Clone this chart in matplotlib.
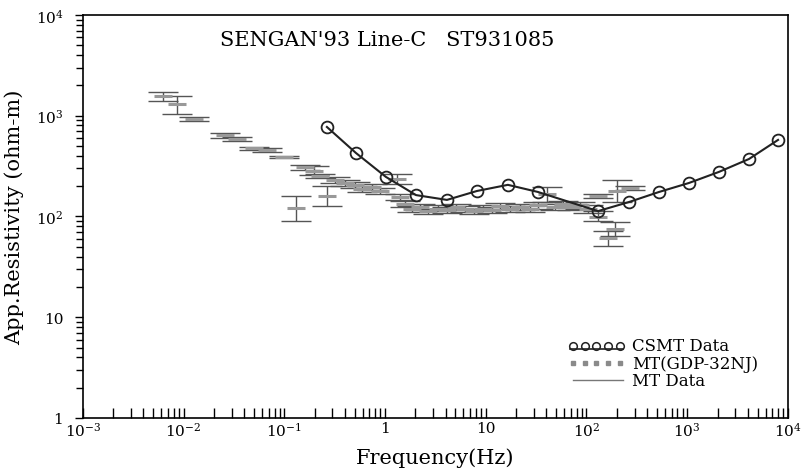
import matplotlib.pyplot as plt
import numpy as np

plt.rcParams['font.family'] = ['DejaVu Serif']
plt.rcParams['mathtext.fontset'] = 'dejavuserif'

# CSMT apparent resistivity
csmt_freq = [0.265, 0.514, 1.02, 2.03, 4.12, 8.18, 16.6, 33.0,
             130, 264, 525, 1042, 2070, 4110, 7980]
csmt_rho = [773, 427, 247, 163, 146, 179, 206, 175,
            113, 139, 175, 215, 277, 372, 575]

# MT (GDP-32NJ) apparent resistivity with error range
mt_freq = [0.00622, 0.00857, 0.01265, 0.0257, 0.0338, 0.0499, 0.0671, 0.0991,
           0.160, 0.197, 0.130, 0.265, 0.226, 0.318, 0.400, 0.502,
           0.590, 0.741, 0.889, 1.31, 1.41, 1.58, 1.85, 2.22,
           2.67, 3.35, 4.12, 5.06, 6.21, 7.64, 9.38, 11.5,
           13.8, 17.4, 21.9, 27.5, 33.0, 40.5, 48.6, 58.5,
           71.8, 86.1, 103, 130, 201, 270, 192, 163, 130]
mt_rho = [1570, 1309, 929, 644, 588, 479, 457, 390,
          310, 283, 121, 160, 252, 230, 215, 205,
          187, 196, 179, 236, 156, 133, 119, 124,
          113, 119, 116, 124, 119, 113, 119, 116,
          127, 119, 124, 119, 130, 167, 124, 133,
          124, 130, 119, 98.9, 179, 192, 75.2, 61.2, 160]
mt_hi = [1722, 1570, 972, 674, 615, 490, 479, 399,
         325, 317, 160, 201, 264, 247, 230, 220,
         201, 210, 192, 264, 167, 143, 127, 133,
         119, 130, 124, 133, 127, 119, 130, 124,
         136, 127, 133, 127, 139, 196, 133, 143,
         133, 139, 130, 113, 230, 201, 88.2, 71.8, 166]
mt_lo = [1400, 1041, 887, 601, 561, 457, 437, 381,
         290, 258, 90.2, 127, 241, 215, 201, 192,
         175, 183, 167, 210, 146, 124, 111, 116,
         106, 113, 108, 116, 111, 106, 113, 108,
         119, 111, 116, 111, 119, 139, 116, 124,
         116, 119, 108, 90.2, 139, 183, 64.0, 51.0, 154]

x_ticks = [1e-3, 1e-2, 1e-1, 1, 10, 1e2, 1e3, 1e4]
x_labels = [r'$10^{-3}$', r'$10^{-2}$', r'$10^{-1}$', '1', '10',
            r'$10^{2}$', r'$10^{3}$', r'$10^{4}$']
y_ticks = [1, 10, 1e2, 1e3, 1e4]
y_labels = ['1', '10', r'$10^{2}$', r'$10^{3}$', r'$10^{4}$']

fig = plt.figure(figsize=(8.04, 4.77), dpi=100)
ax = fig.add_axes([0.103, 0.1216, 0.877, 0.845])
ax.set_xscale('log')
ax.set_yscale('log')
ax.set_xlim(1e-3, 1e4)
ax.set_ylim(1, 1e4)

# MT data: gray bars with dark error bars
mt_rho_a = np.array(mt_rho)
yerr = [mt_rho_a - np.array(mt_lo), np.array(mt_hi) - mt_rho_a]
ax.errorbar(mt_freq, mt_rho, yerr=yerr, fmt='none', ecolor='#555555',
            elinewidth=1.0, capsize=11, capthick=1.0, zorder=2)
ax.plot(mt_freq, mt_rho, linestyle='none', marker='_', markersize=13,
        markeredgewidth=2.2, color='#999999', zorder=3)

# CSMT data
ax.plot(csmt_freq, csmt_rho, color='#222222', linewidth=1.5, marker='o',
        markersize=8.5, markerfacecolor='none', markeredgecolor='#222222',
        markeredgewidth=1.3, zorder=4)

ax.set_xticks(x_ticks)
ax.set_xticklabels(x_labels)
ax.set_yticks(y_ticks)
ax.set_yticklabels(y_labels)
ax.tick_params(axis='x', which='major', direction='in', length=7, width=1,
               labelsize=11, pad=2)
ax.tick_params(axis='x', which='minor', direction='in', length=7, width=1)
ax.tick_params(axis='y', which='major', direction='out', length=6, width=1,
               labelsize=11, pad=8)
ax.tick_params(axis='y', which='minor', direction='out', length=5, width=1)
for s in ax.spines.values():
    s.set_linewidth(1.2)

ax.set_xlabel('Frequency(Hz)', fontsize=15, labelpad=6)
ax.set_ylabel('App.Resistivity (ohm-m)', fontsize=15, labelpad=8)
ax.text(0.195, 0.94, "SENGAN'93 Line-C   ST931085", transform=ax.transAxes,
        fontsize=15, va='center', ha='left')

# hand-made legend
tr = ax.transAxes
lx = np.linspace(0.695, 0.762, 5)
ax.plot([0.691, 0.766], [0.170, 0.170], transform=tr, color='#222222', lw=1.2)
ax.plot(lx, [0.179] * 5, transform=tr, linestyle='none', marker='o',
        markersize=5.5, markerfacecolor='none', markeredgecolor='#222222',
        markeredgewidth=1.1)
ax.plot(lx, [0.136] * 5, transform=tr, linestyle='none', marker='s',
        markersize=3.5, color='#8a8a8a')
ax.plot([0.695, 0.766], [0.094, 0.094], transform=tr, color='#777777', lw=1)
ax.text(0.779, 0.179, 'CSMT Data', transform=tr, fontsize=12, va='center')
ax.text(0.779, 0.136, 'MT(GDP-32NJ)', transform=tr, fontsize=12, va='center')
ax.text(0.779, 0.094, 'MT Data', transform=tr, fontsize=12, va='center')

fig.savefig('out.png', dpi=100)
